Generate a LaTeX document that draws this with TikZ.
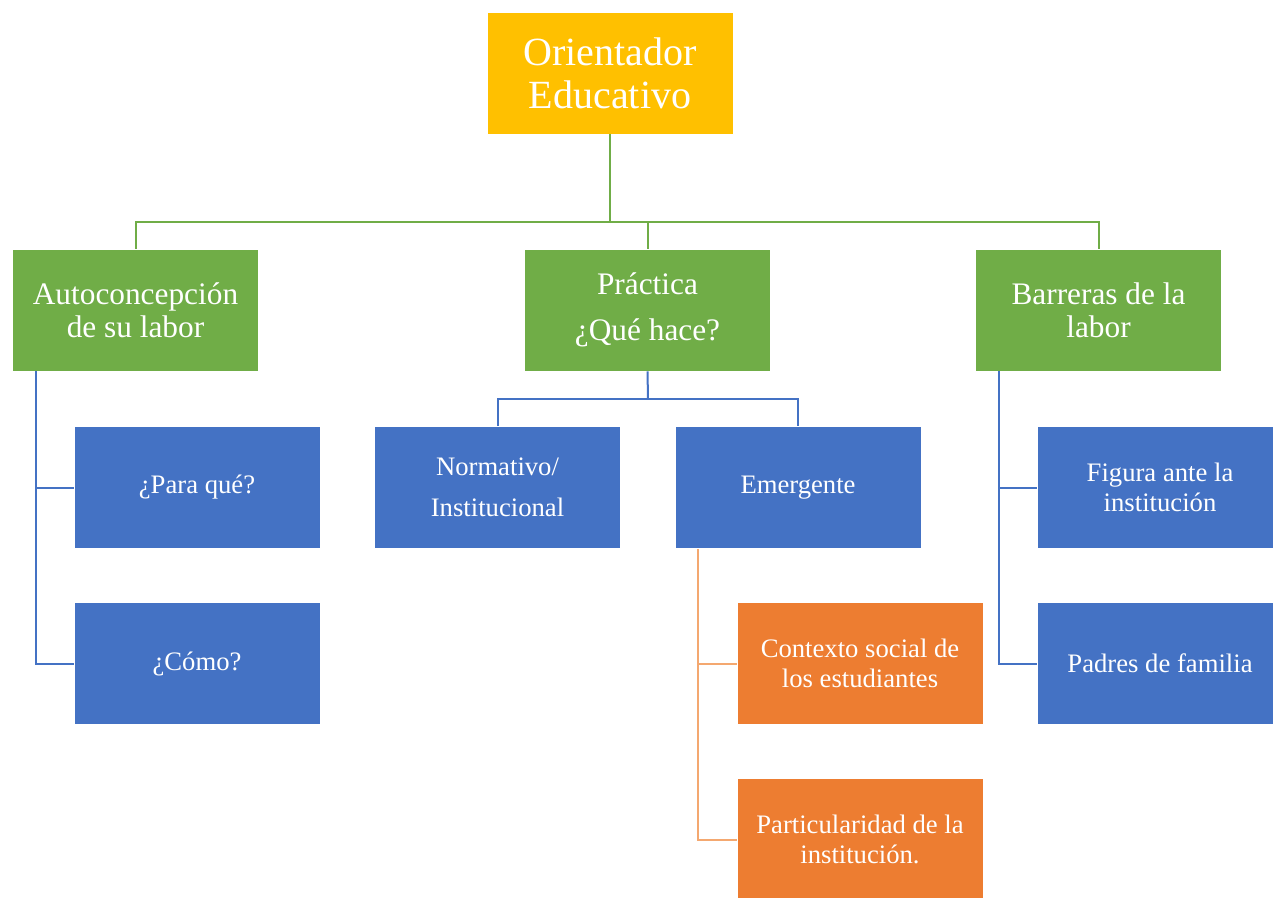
\documentclass[tikz,border=0pt]{standalone}
\usepackage{fontspec}
\setmainfont{Liberation Serif}
\usetikzlibrary{positioning}
\definecolor{oro}{HTML}{FFC000}
\definecolor{verde}{HTML}{70AD47}
\definecolor{azul}{HTML}{4472C4}
\definecolor{naranja}{HTML}{ED7D31}
\definecolor{naranjaclaro}{HTML}{F4A870}
\tikzset{
  caja/.style={draw=white, line width=0.6pt, text=white, align=center,
    minimum width=184.5pt, minimum height=91.5pt, inner sep=2pt},
  raiz/.style={caja, fill=oro, font=\fontsize{30}{32}\selectfont},
  rama/.style={caja, fill=verde, font=\fontsize{23.5}{25}\selectfont},
  hoja/.style={caja, fill=azul, font=\fontsize{20}{22.5}\selectfont},
  hojanar/.style={caja, fill=naranja, font=\fontsize{20}{22.5}\selectfont},
  lverde/.style={draw=verde, line width=1.5pt},
  lazul/.style={draw=azul, line width=1.5pt},
  lnar/.style={draw=naranjaclaro, line width=1.5pt}
}
\begin{document}
\begin{tikzpicture}[x=0.75pt, y=-0.75pt]
\useasboundingbox (0,0) rectangle (1273,897);
\clip (0,0) rectangle (1273,897);
% nivel superior
\node[raiz] (ori) at (610,73) {Orientador\\Educativo};
% ramas
\node[rama] (auto) at (135.5,310) {Autoconcepción\\de su labor};
\node[rama] (prac) at (647.5,310) {Práctica\\[10pt]¿Qué hace?};
\node[rama] (barr) at (1098.5,310) {Barreras de la\\labor};
% hojas
\node[hoja] (para) at (197,487.5) {¿Para qué?};
\node[hoja] (como) at (197,663.5) {¿Cómo?};
\node[hoja] (norm) at (497.5,487.5) {Normativo/\\[8pt]Institucional};
\node[hoja] (emer) at (798,487.5) {Emergente};
\node[hojanar] (cont) at (860,663.5) {Contexto social de\\los estudiantes};
\node[hojanar] (part) at (860,839.5) {Particularidad de la\\institución.};
\node[hoja] (fig) at (1160,487.5) {Figura ante la\\institución};
\node[hoja] (pad) at (1160,663.5) {Padres de familia};
% conectores
\coordinate (gbus) at (610,222);
\draw[lverde] (ori.south) -- (gbus);
\draw[lverde] (auto.north) |- (gbus) -| (barr.north);
\draw[lverde] (gbus -| prac.north) -- (prac.north);
\coordinate (atronco) at ([xshift=18pt]auto.south west);
\draw[lazul] (atronco) |- (como.west);
\draw[lazul] (atronco |- para.west) -- (para.west);
\coordinate (pbus) at (648,399);
\draw[lazul] (prac.south) -- (pbus);
\draw[lazul] (norm.north) |- (pbus) -| (emer.north);
\coordinate (etronco) at ([xshift=17.25pt]emer.south west);
\draw[lnar] (etronco) |- (part.west);
\draw[lnar] (etronco |- cont.west) -- (cont.west);
\coordinate (btronco) at ([xshift=18pt]barr.south west);
\draw[lazul] (btronco) |- (pad.west);
\draw[lazul] (btronco |- fig.west) -- (fig.west);
\end{tikzpicture}
\end{document}
